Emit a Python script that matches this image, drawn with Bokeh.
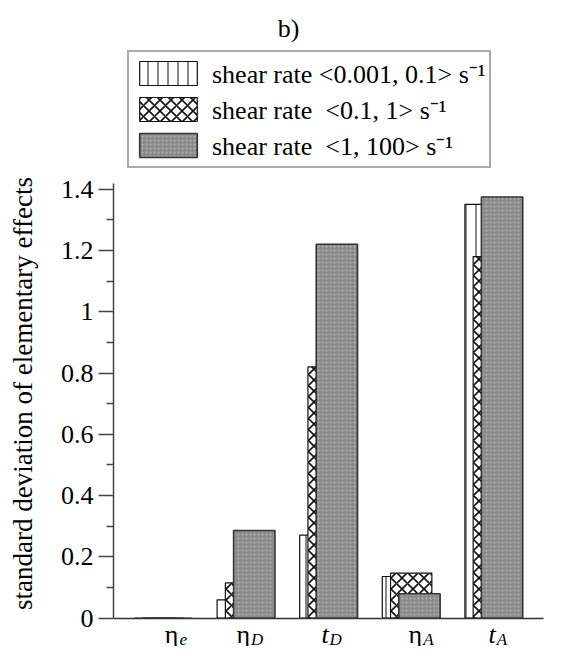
import math
from bokeh.plotting import figure
from bokeh.models import (ColumnDataSource, Range1d, FixedTicker, Legend, LegendItem, Label)
from bokeh.transform import dodge
from bokeh.embed import file_html
from bokeh.resources import INLINE

# ---- data ----
param_main = ["η", "η", "t", "η", "t"]
param_sub = ["e", "D", "D", "A", "A"]
param_main_italic = [False, False, True, False, True]
x_pos = [1, 2, 3, 4, 5]
low_rate = [0.0, 0.060, 0.271, 0.136, 1.350]
mid_rate = [0.0, 0.115, 0.820, 0.147, 1.180]
high_rate = [0.0, 0.286, 1.220, 0.080, 1.374]
series_labels = ["shear rate <0.001, 0.1> s\u207b\u00b9",
                 "shear rate  <0.1, 1> s\u207b\u00b9",
                 "shear rate  <1, 100> s\u207b\u00b9"]
y_ticks = [0, 0.2, 0.4, 0.6, 0.8, 1, 1.2, 1.4]
y_tick_labels = ["0", "0.2", "0.4", "0.6", "0.8", "1", "1.2", "1.4"]
y_minor = [0.1, 0.3, 0.5, 0.7, 0.9, 1.1, 1.3]
x_axis_span = (0.396, 5.602)
y_axis_span = (0, 1.418)
title_text = "b)"
y_label = "standard deviation of elementary effects"

# ---- layout constants ----
label_nudge = [15, 4, 0, 11, 2]
FONT = "Liberation Serif"

W, H = 553, 646
# the frame covers the whole canvas; the axes are pinned at x = 0.396 and y = 0
p = figure(width=W, height=H, x_range=Range1d(-0.9722, 5.7227), y_range=Range1d(-0.0923, 2.0153),
           output_backend="svg", toolbar_location=None, title=None,
           min_border=0, min_border_left=0, min_border_right=0,
           min_border_top=0, min_border_bottom=0)
p.outline_line_color = None
p.xgrid.visible = False
p.ygrid.visible = False
p.background_fill_color = "white"
p.border_fill_color = "white"

src = ColumnDataSource(dict(x=x_pos, low=low_rate, mid=mid_rate, high=high_rate))

r1 = p.vbar(x=dodge("x", -0.1, range=p.x_range), top="low", width=0.5, source=src,
            fill_color="white", line_color="#111111", line_width=1.2,
            hatch_pattern="|", hatch_scale=10, hatch_color="#111111", hatch_weight=1)
r2 = p.vbar(x=dodge("x", 0.0, range=p.x_range), top="mid", width=0.5, source=src,
            fill_color="white", line_color="#111111", line_width=1.2,
            hatch_pattern="x", hatch_scale=11, hatch_color="#111111", hatch_weight=1.6)
r3 = p.vbar(x=dodge("x", 0.1, range=p.x_range), top="high", width=0.5, source=src,
            fill_color="#8a8a8a", line_color="#333333", line_width=1.6,
            hatch_pattern=".", hatch_scale=4, hatch_color="#b5b5b5", hatch_weight=1)

# y axis pinned at the left end of the x axis
yax = p.yaxis[0]
yax.fixed_location = x_axis_span[0]
yax.bounds = y_axis_span
yax.ticker = FixedTicker(ticks=y_ticks, minor_ticks=y_minor)
yax.major_label_overrides = dict(zip(y_ticks, y_tick_labels))
yax.major_tick_out = 15
yax.major_tick_in = 0
yax.minor_tick_out = 7
yax.minor_tick_in = 0
for a in ("axis_line", "major_tick_line", "minor_tick_line"):
    setattr(yax, a + "_color", "#444444")
    setattr(yax, a + "_width", 1.5)
yax.major_label_text_font = FONT
yax.major_label_text_font_size = "26px"
yax.major_label_text_color = "black"
yax.major_label_standoff = 5

# x axis pinned at y = 0 (line only)
xax = p.xaxis[0]
xax.fixed_location = 0
xax.bounds = x_axis_span
xax.ticker = FixedTicker(ticks=[])
xax.minor_tick_line_color = None
xax.major_tick_line_color = None
xax.major_label_text_font_size = "0px"
xax.axis_line_color = "#333333"
xax.axis_line_width = 1.5

# y axis title
p.add_layout(Label(x=22, y=253, x_units="screen", y_units="screen", text=y_label,
                   angle=math.pi / 2, text_align="center", text_baseline="middle",
                   text_font=FONT, text_font_size="27px", text_color="black"))

# category labels with subscripts
for xp, m, s, it, nd in zip(x_pos, param_main, param_sub, param_main_italic, label_nudge):
    p.add_layout(Label(x=xp, y=0, x_units="data", y_units="data", text=m,
                       x_offset=nd, y_offset=-16, text_align="right", text_baseline="alphabetic",
                       text_font=FONT, text_font_size="26px",
                       text_font_style="italic" if it else "normal", text_color="black"))
    p.add_layout(Label(x=xp, y=0, x_units="data", y_units="data", text=s,
                       x_offset=nd + 1, y_offset=-21, text_align="left", text_baseline="alphabetic",
                       text_font=FONT, text_font_size="17px", text_font_style="italic",
                       text_color="black"))

# title
p.add_layout(Label(x=288, y=618, x_units="screen", y_units="screen", text=title_text,
                   text_align="center", text_baseline="alphabetic",
                   text_font=FONT, text_font_size="26px", text_color="black"))

legend = Legend(items=[LegendItem(label=series_labels[0], renderers=[r1]),
                       LegendItem(label=series_labels[1], renderers=[r2]),
                       LegendItem(label=series_labels[2], renderers=[r3])],
                location=(127, 478), orientation="vertical",
                label_text_font=FONT, label_text_font_size="26px", label_text_color="black",
                glyph_width=72, glyph_height=30, label_height=30, spacing=-2, padding=3,
                label_standoff=8, margin=0,
                border_line_color="#555555", border_line_width=2,
                background_fill_color="white", background_fill_alpha=1.0)
p.add_layout(legend)

open("out.html", "w").write(file_html(p, INLINE))
